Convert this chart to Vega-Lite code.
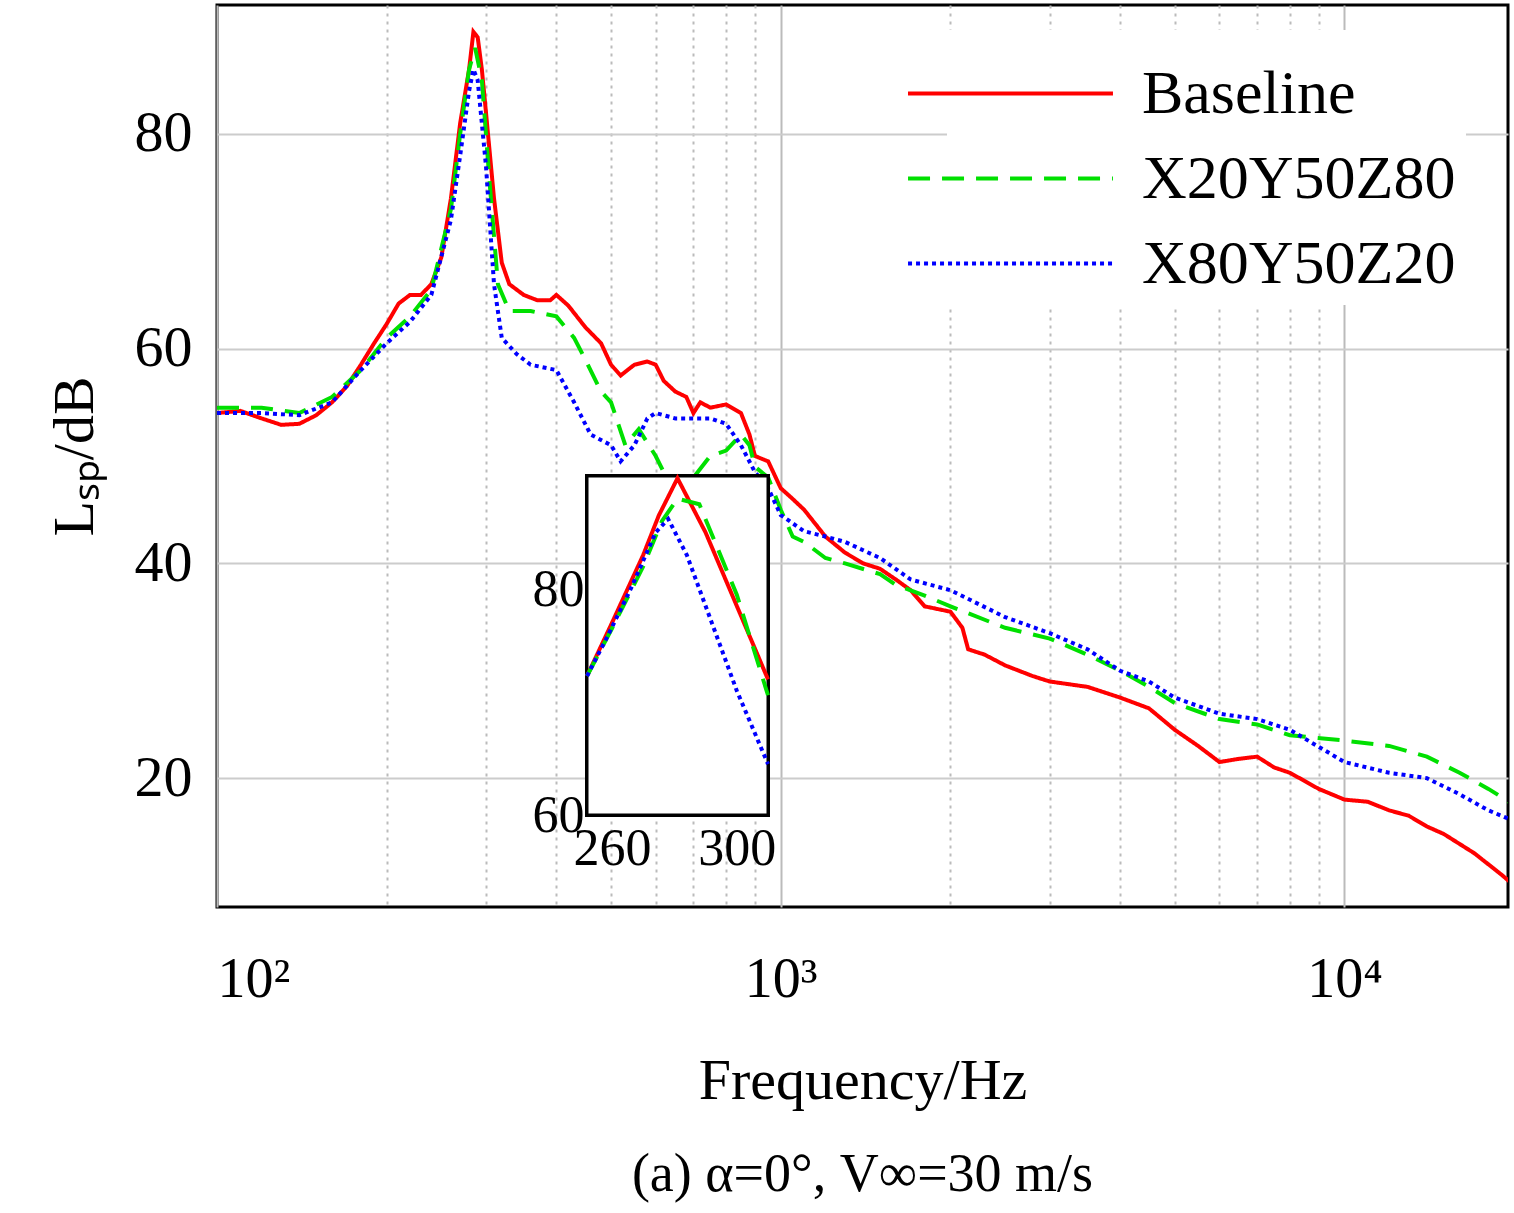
{
"$schema":"https://vega.github.io/schema/vega-lite/v6.json",
"width":1291,"height":902,
"autosize":{"type":"none"},
"padding":{"left":217,"top":5,"right":6,"bottom":306},
"background":"white",
"config":{"font":"Liberation Serif","view":{"stroke":"black","strokeWidth":3}},
"title":{"text":"(a) α=0°, V∞=30 m/s","orient":"bottom","offset":38,"fontSize":54,"fontWeight":"normal","font":"Liberation Serif"},
"datasets":{
"main":[
{"f":100,"v":54,"s":"Baseline"},{"f":110,"v":54.2,"s":"Baseline"},{"f":120,"v":53.5,"s":"Baseline"},{"f":130,"v":52.9,"s":"Baseline"},{"f":140,"v":53,"s":"Baseline"},{"f":150,"v":53.8,"s":"Baseline"},{"f":160,"v":55,"s":"Baseline"},{"f":170,"v":56.5,"s":"Baseline"},{"f":180,"v":58.5,"s":"Baseline"},{"f":190,"v":60.5,"s":"Baseline"},{"f":200,"v":62.3,"s":"Baseline"},{"f":210,"v":64.2,"s":"Baseline"},{"f":220,"v":65,"s":"Baseline"},{"f":230,"v":65,"s":"Baseline"},{"f":240,"v":66,"s":"Baseline"},{"f":250,"v":68.5,"s":"Baseline"},{"f":260,"v":74,"s":"Baseline"},{"f":270,"v":81,"s":"Baseline"},{"f":280,"v":86,"s":"Baseline"},{"f":285,"v":89.5,"s":"Baseline"},{"f":290,"v":89,"s":"Baseline"},{"f":295,"v":86,"s":"Baseline"},{"f":300,"v":82,"s":"Baseline"},{"f":310,"v":74,"s":"Baseline"},{"f":320,"v":68,"s":"Baseline"},{"f":330,"v":66,"s":"Baseline"},{"f":350,"v":65,"s":"Baseline"},{"f":370,"v":64.5,"s":"Baseline"},{"f":390,"v":64.5,"s":"Baseline"},{"f":400,"v":65,"s":"Baseline"},{"f":420,"v":64,"s":"Baseline"},{"f":450,"v":62,"s":"Baseline"},{"f":480,"v":60.5,"s":"Baseline"},{"f":500,"v":58.5,"s":"Baseline"},{"f":520,"v":57.5,"s":"Baseline"},{"f":550,"v":58.5,"s":"Baseline"},{"f":580,"v":58.8,"s":"Baseline"},{"f":600,"v":58.5,"s":"Baseline"},{"f":620,"v":57,"s":"Baseline"},{"f":650,"v":56,"s":"Baseline"},{"f":680,"v":55.5,"s":"Baseline"},{"f":700,"v":54,"s":"Baseline"},{"f":720,"v":55,"s":"Baseline"},{"f":750,"v":54.5,"s":"Baseline"},{"f":800,"v":54.8,"s":"Baseline"},{"f":850,"v":54,"s":"Baseline"},{"f":880,"v":52,"s":"Baseline"},{"f":900,"v":50,"s":"Baseline"},{"f":950,"v":49.5,"s":"Baseline"},{"f":1000,"v":47,"s":"Baseline"},{"f":1050,"v":46,"s":"Baseline"},{"f":1100,"v":45,"s":"Baseline"},{"f":1200,"v":42.5,"s":"Baseline"},{"f":1300,"v":41,"s":"Baseline"},{"f":1400,"v":40,"s":"Baseline"},{"f":1500,"v":39.5,"s":"Baseline"},{"f":1600,"v":38.5,"s":"Baseline"},{"f":1700,"v":37.5,"s":"Baseline"},{"f":1800,"v":36,"s":"Baseline"},{"f":2000,"v":35.5,"s":"Baseline"},{"f":2100,"v":34,"s":"Baseline"},{"f":2150,"v":32,"s":"Baseline"},{"f":2300,"v":31.5,"s":"Baseline"},{"f":2500,"v":30.5,"s":"Baseline"},{"f":2800,"v":29.5,"s":"Baseline"},{"f":3000,"v":29,"s":"Baseline"},{"f":3500,"v":28.5,"s":"Baseline"},{"f":4000,"v":27.5,"s":"Baseline"},{"f":4500,"v":26.5,"s":"Baseline"},{"f":5000,"v":24.5,"s":"Baseline"},{"f":5500,"v":23,"s":"Baseline"},{"f":6000,"v":21.5,"s":"Baseline"},{"f":6500,"v":21.8,"s":"Baseline"},{"f":7000,"v":22,"s":"Baseline"},{"f":7500,"v":21,"s":"Baseline"},{"f":8000,"v":20.5,"s":"Baseline"},{"f":9000,"v":19,"s":"Baseline"},{"f":10000,"v":18,"s":"Baseline"},{"f":11000,"v":17.8,"s":"Baseline"},{"f":12000,"v":17,"s":"Baseline"},{"f":13000,"v":16.5,"s":"Baseline"},{"f":14000,"v":15.5,"s":"Baseline"},{"f":15000,"v":14.8,"s":"Baseline"},{"f":17000,"v":13,"s":"Baseline"},{"f":19000,"v":11,"s":"Baseline"},{"f":20000,"v":10,"s":"Baseline"},
{"f":100,"v":54.5,"s":"X20Y50Z80"},{"f":120,"v":54.5,"s":"X20Y50Z80"},{"f":140,"v":54,"s":"X20Y50Z80"},{"f":160,"v":55.5,"s":"X20Y50Z80"},{"f":180,"v":58,"s":"X20Y50Z80"},{"f":200,"v":61,"s":"X20Y50Z80"},{"f":220,"v":63,"s":"X20Y50Z80"},{"f":240,"v":65.5,"s":"X20Y50Z80"},{"f":260,"v":73,"s":"X20Y50Z80"},{"f":270,"v":80,"s":"X20Y50Z80"},{"f":280,"v":86,"s":"X20Y50Z80"},{"f":287,"v":88,"s":"X20Y50Z80"},{"f":295,"v":85,"s":"X20Y50Z80"},{"f":305,"v":75,"s":"X20Y50Z80"},{"f":315,"v":66,"s":"X20Y50Z80"},{"f":330,"v":63.5,"s":"X20Y50Z80"},{"f":360,"v":63.5,"s":"X20Y50Z80"},{"f":400,"v":63,"s":"X20Y50Z80"},{"f":430,"v":61,"s":"X20Y50Z80"},{"f":450,"v":59,"s":"X20Y50Z80"},{"f":480,"v":56,"s":"X20Y50Z80"},{"f":500,"v":55,"s":"X20Y50Z80"},{"f":530,"v":51,"s":"X20Y50Z80"},{"f":560,"v":52.5,"s":"X20Y50Z80"},{"f":600,"v":50,"s":"X20Y50Z80"},{"f":620,"v":48.5,"s":"X20Y50Z80"},{"f":650,"v":47,"s":"X20Y50Z80"},{"f":700,"v":48,"s":"X20Y50Z80"},{"f":750,"v":50,"s":"X20Y50Z80"},{"f":800,"v":50.5,"s":"X20Y50Z80"},{"f":850,"v":52,"s":"X20Y50Z80"},{"f":880,"v":51,"s":"X20Y50Z80"},{"f":900,"v":49,"s":"X20Y50Z80"},{"f":950,"v":48,"s":"X20Y50Z80"},{"f":1000,"v":45,"s":"X20Y50Z80"},{"f":1050,"v":42.5,"s":"X20Y50Z80"},{"f":1100,"v":42,"s":"X20Y50Z80"},{"f":1200,"v":40.5,"s":"X20Y50Z80"},{"f":1300,"v":40,"s":"X20Y50Z80"},{"f":1500,"v":39,"s":"X20Y50Z80"},{"f":1600,"v":38,"s":"X20Y50Z80"},{"f":1800,"v":37,"s":"X20Y50Z80"},{"f":2000,"v":36,"s":"X20Y50Z80"},{"f":2500,"v":34,"s":"X20Y50Z80"},{"f":3000,"v":33,"s":"X20Y50Z80"},{"f":3500,"v":31.5,"s":"X20Y50Z80"},{"f":4000,"v":30,"s":"X20Y50Z80"},{"f":4500,"v":28.5,"s":"X20Y50Z80"},{"f":5000,"v":27,"s":"X20Y50Z80"},{"f":6000,"v":25.5,"s":"X20Y50Z80"},{"f":7000,"v":25,"s":"X20Y50Z80"},{"f":8000,"v":24,"s":"X20Y50Z80"},{"f":10000,"v":23.5,"s":"X20Y50Z80"},{"f":12000,"v":23,"s":"X20Y50Z80"},{"f":14000,"v":22,"s":"X20Y50Z80"},{"f":16000,"v":20.5,"s":"X20Y50Z80"},{"f":18000,"v":19,"s":"X20Y50Z80"},{"f":20000,"v":17.5,"s":"X20Y50Z80"},
{"f":100,"v":54,"s":"X80Y50Z20"},{"f":120,"v":54,"s":"X80Y50Z20"},{"f":140,"v":53.8,"s":"X80Y50Z20"},{"f":160,"v":55,"s":"X80Y50Z20"},{"f":180,"v":58,"s":"X80Y50Z20"},{"f":200,"v":60.5,"s":"X80Y50Z20"},{"f":220,"v":62.5,"s":"X80Y50Z20"},{"f":240,"v":65,"s":"X80Y50Z20"},{"f":260,"v":72,"s":"X80Y50Z20"},{"f":270,"v":78,"s":"X80Y50Z20"},{"f":280,"v":84,"s":"X80Y50Z20"},{"f":285,"v":86,"s":"X80Y50Z20"},{"f":290,"v":85,"s":"X80Y50Z20"},{"f":300,"v":77,"s":"X80Y50Z20"},{"f":310,"v":66,"s":"X80Y50Z20"},{"f":320,"v":61,"s":"X80Y50Z20"},{"f":340,"v":59.5,"s":"X80Y50Z20"},{"f":360,"v":58.5,"s":"X80Y50Z20"},{"f":400,"v":58,"s":"X80Y50Z20"},{"f":430,"v":55,"s":"X80Y50Z20"},{"f":460,"v":52,"s":"X80Y50Z20"},{"f":500,"v":51,"s":"X80Y50Z20"},{"f":520,"v":49.5,"s":"X80Y50Z20"},{"f":550,"v":51,"s":"X80Y50Z20"},{"f":580,"v":53.5,"s":"X80Y50Z20"},{"f":600,"v":54,"s":"X80Y50Z20"},{"f":650,"v":53.5,"s":"X80Y50Z20"},{"f":700,"v":53.5,"s":"X80Y50Z20"},{"f":750,"v":53.5,"s":"X80Y50Z20"},{"f":800,"v":53,"s":"X80Y50Z20"},{"f":850,"v":51,"s":"X80Y50Z20"},{"f":900,"v":48.5,"s":"X80Y50Z20"},{"f":950,"v":47,"s":"X80Y50Z20"},{"f":1000,"v":44.5,"s":"X80Y50Z20"},{"f":1100,"v":43,"s":"X80Y50Z20"},{"f":1200,"v":42.5,"s":"X80Y50Z20"},{"f":1300,"v":42,"s":"X80Y50Z20"},{"f":1500,"v":40.5,"s":"X80Y50Z20"},{"f":1700,"v":38.5,"s":"X80Y50Z20"},{"f":2000,"v":37.5,"s":"X80Y50Z20"},{"f":2500,"v":35,"s":"X80Y50Z20"},{"f":3000,"v":33.5,"s":"X80Y50Z20"},{"f":3500,"v":32,"s":"X80Y50Z20"},{"f":4000,"v":30,"s":"X80Y50Z20"},{"f":4500,"v":29,"s":"X80Y50Z20"},{"f":5000,"v":27.5,"s":"X80Y50Z20"},{"f":6000,"v":26,"s":"X80Y50Z20"},{"f":7000,"v":25.5,"s":"X80Y50Z20"},{"f":8000,"v":24.5,"s":"X80Y50Z20"},{"f":10000,"v":21.5,"s":"X80Y50Z20"},{"f":12000,"v":20.5,"s":"X80Y50Z20"},{"f":14000,"v":20,"s":"X80Y50Z20"},{"f":16000,"v":18.5,"s":"X80Y50Z20"},{"f":18000,"v":17,"s":"X80Y50Z20"},{"f":20000,"v":16,"s":"X80Y50Z20"}
],
"inset":[
{"f":252,"v":72.3,"s":"Baseline"},{"f":260,"v":77,"s":"Baseline"},{"f":270,"v":83,"s":"Baseline"},{"f":275,"v":86.5,"s":"Baseline"},{"f":281,"v":89.8,"s":"Baseline"},{"f":290,"v":85,"s":"Baseline"},{"f":300,"v":78.5,"s":"Baseline"},{"f":310,"v":72,"s":"Baseline"},
{"f":252,"v":72.3,"s":"X20Y50Z80"},{"f":260,"v":76.5,"s":"X20Y50Z80"},{"f":270,"v":82,"s":"X20Y50Z80"},{"f":276,"v":86,"s":"X20Y50Z80"},{"f":281,"v":88,"s":"X20Y50Z80"},{"f":288,"v":87.5,"s":"X20Y50Z80"},{"f":300,"v":79.5,"s":"X20Y50Z80"},{"f":310,"v":70.6,"s":"X20Y50Z80"},
{"f":252,"v":72.3,"s":"X80Y50Z20"},{"f":258,"v":75.5,"s":"X80Y50Z20"},{"f":266,"v":80,"s":"X80Y50Z20"},{"f":274,"v":85,"s":"X80Y50Z20"},{"f":278,"v":86.2,"s":"X80Y50Z20"},{"f":284,"v":83,"s":"X80Y50Z20"},{"f":292,"v":77,"s":"X80Y50Z20"},{"f":300,"v":71,"s":"X80Y50Z20"},{"f":310,"v":64.5,"s":"X80Y50Z20"}
]
},
"layer":[
{"data":{"name":"main"},"mark":{"type":"line","strokeWidth":4,"clip":true},
"encoding":{
"x":{"field":"f","type":"quantitative","scale":{"type":"log","domain":[100,19500],"nice":false},
"axis":{"title":"Frequency/Hz","titleFontSize":58,"titleFontWeight":"normal","titlePadding":45,"titleColor":"black",
"values":[100,200,300,400,500,600,700,800,900,1000,2000,3000,4000,5000,6000,7000,8000,9000,10000],
"labelExpr":"datum.value==100?'10²':datum.value==1000?'10³':datum.value==10000?'10⁴':''",
"labelFontSize":56,"labelColor":"black","labelPadding":45,"tickSize":0,"domain":false,
"grid":true,"gridColor":"#bbbbbb","gridWidth":2,
"gridDash":{"condition":{"test":"datum.value==100||datum.value==1000||datum.value==10000","value":[]},"value":[3,5]}}},
"y":{"field":"v","type":"quantitative","scale":{"domain":[8,92],"nice":false,"zero":false},
"axis":{"title":"Lₛₚ/dB","titleFontSize":58,"titleFontWeight":"normal","titleColor":"black","titlePadding":30,
"values":[20,40,60,80],"labelFontSize":58,"labelColor":"black","labelPadding":25,"tickSize":0,"domain":false,
"grid":true,"gridColor":"#cccccc","gridWidth":2}},
"color":{"field":"s","type":"nominal","scale":{"domain":["Baseline","X20Y50Z80","X80Y50Z20"],"range":["#ff0000","#00e000","#0000ff"]},
"legend":{"title":null,"orient":"none","legendX":730,"legendY":25,"symbolType":"M-2,0L2,0","symbolSize":10500,"symbolStrokeWidth":4,
"labelFontSize":62,"labelColor":"black","labelOffset":78,"labelLimit":0,"rowPadding":-18,"fillColor":"white","padding":10,"offset":0}},
"strokeDash":{"field":"s","type":"nominal","scale":{"domain":["Baseline","X20Y50Z80","X80Y50Z20"],"range":[[1,0],[22,12],[4,4]]}}
}},
{"data":{"name":"inset"},
"layer":[
{"mark":{"type":"rect","fill":"white","stroke":"black","strokeWidth":3},
"encoding":{"x":{"datum":252,"type":"quantitative"},"x2":{"datum":310},"y":{"datum":60,"type":"quantitative"},"y2":{"datum":90}}},
{"mark":{"type":"line","strokeWidth":4},
"encoding":{
"x":{"field":"f","type":"quantitative"},
"y":{"field":"v","type":"quantitative"},
"color":{"field":"s","type":"nominal","scale":{"domain":["Baseline","X20Y50Z80","X80Y50Z20"],"range":["#ff0000","#00e000","#0000ff"]},"legend":null},
"strokeDash":{"field":"s","type":"nominal","scale":{"domain":["Baseline","X20Y50Z80","X80Y50Z20"],"range":[[1,0],[22,12],[4,4]]},"legend":null}
}}
],
"encoding":{
"x":{"type":"quantitative","scale":{"domain":[252,310],"range":[370,551],"nice":false,"zero":false},
"axis":{"title":null,"orient":"bottom","offset":-92,"values":[260,300],"labelFontSize":52,"labelColor":"black","tickSize":0,"domain":false,"grid":false,"labelPadding":8}},
"y":{"type":"quantitative","scale":{"domain":[60,90],"range":[810,471],"nice":false,"zero":false},
"axis":{"title":null,"orient":"left","offset":-370,"values":[60,80],"labelFontSize":52,"labelColor":"black","tickSize":0,"domain":false,"grid":false,"labelPadding":3}}
}
}
],
"resolve":{"scale":{"x":"independent","y":"independent","color":"independent","strokeDash":"independent"},"axis":{"x":"independent","y":"independent"}}
}
